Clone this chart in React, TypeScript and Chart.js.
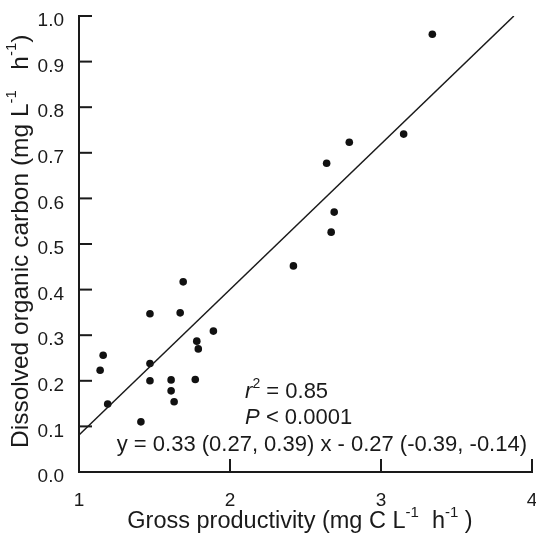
import React, { useEffect, useRef } from "react";
import { Chart, registerables } from "chart.js";

Chart.register(...registerables);

const grossProductivity = [
  2.42, 1.69, 1.47, 1.67, 1.89, 1.78, 1.79, 1.16, 1.14, 1.47, 1.47, 1.61,
  1.77, 1.61, 1.63, 1.19, 1.41, 3.34, 3.15, 2.79, 2.64, 2.69, 2.67,
];
const dissolvedOrganicCarbon = [
  0.452, 0.417, 0.347, 0.349, 0.309, 0.287, 0.27, 0.256, 0.223, 0.238, 0.2,
  0.202, 0.203, 0.178, 0.154, 0.149, 0.11, 0.96, 0.741, 0.723, 0.677, 0.57,
  0.526,
];
const fitLineX = [1, 3.88];
const fitLineY = [0.081, 1.0];
const xTickValues = [1, 2, 3, 4];
const yTickValues = [0, 0.1, 0.2, 0.3, 0.4, 0.5, 0.6, 0.7, 0.8, 0.9, 1.0];

const FONT = "'Liberation Sans', Arial, Helvetica, sans-serif";
const INK = "#1a1a1a";

type Seg = { t: string; sup?: boolean; italic?: boolean };

function fontFor(s: Seg, size: number) {
  return `${s.italic ? "italic " : ""}${s.sup ? Math.round(size * 0.62) : size}px ${FONT}`;
}

function drawRich(
  ctx: CanvasRenderingContext2D,
  segs: Seg[],
  x: number,
  y: number,
  size: number,
  align: "left" | "center" | "right"
) {
  let total = 0;
  const widths = segs.map((s) => {
    ctx.font = fontFor(s, size);
    const w = ctx.measureText(s.t).width;
    total += w;
    return w;
  });
  let cx = align === "center" ? x - total / 2 : align === "right" ? x - total : x;
  ctx.textBaseline = "middle";
  ctx.textAlign = "left";
  segs.forEach((s, i) => {
    ctx.font = fontFor(s, size);
    ctx.fillText(s.t, cx, s.sup ? y - size * 0.38 : y);
    cx += widths[i];
  });
}

const overlayPlugin = {
  id: "overlay",
  afterDraw(chart: any) {
    const ctx: CanvasRenderingContext2D = chart.ctx;
    const area = chart.chartArea;
    const xs = chart.scales.x;
    const ys = chart.scales.y;
    ctx.save();
    ctx.fillStyle = INK;

    // axes (left and bottom only)
    const lw = 2;
    ctx.fillRect(area.left - lw / 2, area.top - lw / 2, lw, area.bottom - area.top + lw);
    ctx.fillRect(area.left - lw / 2, area.bottom - lw / 2, area.right - area.left + lw, lw);

    // inward tick marks
    const tickLen = 13;
    yTickValues.forEach((v) => {
      if (v === 0) return;
      const py = ys.getPixelForValue(v);
      ctx.fillRect(area.left, py - lw / 2, tickLen, lw);
    });
    xTickValues.forEach((v) => {
      if (v === 1) return;
      const px = xs.getPixelForValue(v);
      ctx.fillRect(px - lw / 2, area.bottom - tickLen, lw, tickLen);
    });

    // annotations
    const annSize = 22;
    drawRich(
      ctx,
      [{ t: "r", italic: true }, { t: "2", sup: true }, { t: " = 0.85" }],
      xs.getPixelForValue(2.1),
      ys.getPixelForValue(0.175),
      annSize,
      "left"
    );
    drawRich(
      ctx,
      [{ t: "P", italic: true }, { t: " < 0.0001" }],
      xs.getPixelForValue(2.1),
      ys.getPixelForValue(0.118),
      annSize,
      "left"
    );
    drawRich(
      ctx,
      [{ t: "y = 0.33 (0.27, 0.39) x - 0.27 (-0.39, -0.14)" }],
      xs.getPixelForValue(1.25),
      ys.getPixelForValue(0.059),
      annSize,
      "left"
    );

    // axis titles
    drawRich(
      ctx,
      [
        { t: "Gross productivity (mg C L" },
        { t: "-1", sup: true },
        { t: "  h" },
        { t: "-1", sup: true },
        { t: " )" },
      ],
      300,
      522,
      23.5,
      "center"
    );
    ctx.save();
    ctx.translate(21, 448);
    ctx.rotate(-Math.PI / 2);
    drawRich(
      ctx,
      [
        { t: "Dissolved organic carbon (mg L" },
        { t: "-1", sup: true },
        { t: "   h" },
        { t: "-1", sup: true },
        { t: ")" },
      ],
      0,
      0,
      24.5,
      "left"
    );
    ctx.restore();
    ctx.restore();
  },
};

export default function App() {
  const canvasRef = useRef<HTMLCanvasElement | null>(null);

  useEffect(() => {
    if (!canvasRef.current) return;
    const points = grossProductivity.map((x, i) => ({
      x,
      y: dissolvedOrganicCarbon[i],
    }));
    const line = fitLineX.map((x, i) => ({ x, y: fitLineY[i] }));
    const chart = new Chart(canvasRef.current, {
      type: "scatter",
      data: {
        datasets: [
          {
            type: "line",
            data: line,
            borderColor: INK,
            borderWidth: 1.5,
            pointRadius: 0,
            fill: false,
          } as any,
          {
            type: "scatter",
            data: points,
            backgroundColor: "#111",
            borderColor: "#111",
            borderWidth: 0,
            pointRadius: 3.8,
          },
        ],
      },
      options: {
        responsive: false,
        animation: false,
        devicePixelRatio: 1,
        layout: { padding: { top: 16, right: -7, left: 0, bottom: 0 } },
        plugins: {
          legend: { display: false },
          tooltip: { enabled: false },
        },
        scales: {
          x: {
            type: "linear",
            min: 1,
            max: 4,
            afterBuildTicks: (s: any) => {
              s.ticks = xTickValues.map((v) => ({ value: v }));
            },
            afterFit: (s: any) => {
              s.height = 62;
              s.paddingRight = 0;
              s.paddingLeft = 0;
            },
            grid: { display: false },
            border: { display: false },
            ticks: {
              padding: 9,
              color: INK,
              font: { family: FONT, size: 19 },
              maxRotation: 0,
              autoSkip: false,
              callback: (v: any) => String(v),
            },
          },
          y: {
            type: "linear",
            min: 0,
            max: 1,
            afterBuildTicks: (s: any) => {
              s.ticks = yTickValues.map((v) => ({ value: v }));
            },
            afterFit: (s: any) => {
              s.width = 79;
              s.paddingTop = 0;
              s.paddingBottom = 0;
            },
            grid: { display: false },
            border: { display: false },
            ticks: {
              padding: 7,
              labelOffset: 5,
              color: INK,
              font: { family: FONT, size: 19 },
              autoSkip: false,
              callback: (v: any) => Number(v).toFixed(1),
            },
          },
        },
      },
      plugins: [overlayPlugin],
    });
    return () => chart.destroy();
  }, []);

  return (
    <div style={{ position: "fixed", left: 0, top: 0, width: 536, height: 534, background: "#fff" }}>
      <canvas ref={canvasRef} width={536} height={534} />
    </div>
  );
}
